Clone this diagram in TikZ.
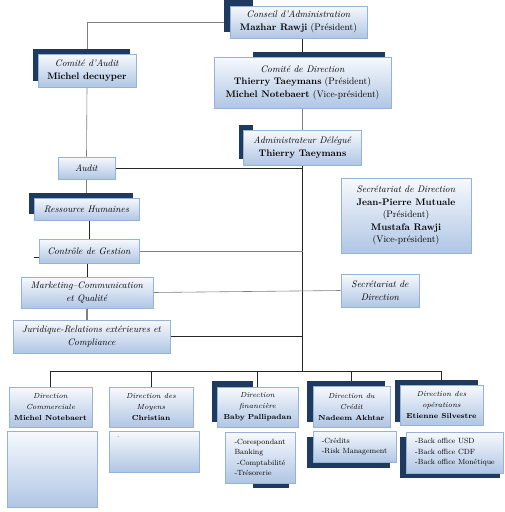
\documentclass[tikz,border=0pt]{standalone}
\usepackage{fontspec}
\definecolor{boxline}{HTML}{95B3D7}
\definecolor{boxtop}{HTML}{F7F9FD}
\definecolor{boxbot}{HTML}{B0C6E4}
\definecolor{navy}{HTML}{1F3A5F}
\pgfdeclarelayer{bg}
\pgfsetlayers{bg,main}
\begin{document}
\begin{tikzpicture}[x=1pt,y=-1pt,
  box/.style={draw=boxline,top color=boxtop,bottom color=boxbot,line width=.8pt,inner sep=1pt,align=center,font=\fontsize{9.5}{12.5}\selectfont},
  dirbox/.style={box,font=\fontsize{7.3}{11}\selectfont},
  listbox/.style={box,align=left,font=\fontsize{7.5}{10.5}\selectfont},
  link/.style={draw=black!85,line width=.6pt},
  glink/.style={draw=black!50,line width=.6pt}]
\useasboundingbox (0,0) rectangle (505,512);
% shadows
\fill[navy] (224,0) rectangle (253,32);
\fill[navy] (33,49) rectangle (130,81);
\fill[navy] (253,52) rectangle (385,70);
\fill[navy] (239,125) rectangle (253,159);
\fill[navy] (29,193) rectangle (133,214);
\fill[navy] (212,381) rectangle (253,422);
\fill[navy] (253,437) rectangle (289,488);
\fill[navy] (307,381) rectangle (385,422);
\fill[navy] (307,437) rectangle (390,468);
\fill[navy] (395,380) rectangle (478,422);
\fill[navy] (400,437) rectangle (500,478);
% top part
\node[box,minimum width=137,minimum height=32] (conseil) at (298.5,22) {\textit{Conseil d'Administration}\\\textbf{Mazhar Rawji} (Président)};
\node[box,minimum width=98,minimum height=33] (caudit) at (87,70.5) {\textit{Comité d'Audit}\\\textbf{Michel decuyper}};
\node[box,minimum width=177,minimum height=51] (cdir) at (302.5,82.5) {\textit{Comité de Direction}\\\textbf{Thierry Taeymans} (Président)\\\textbf{Michel Notebaert} (Vice-président)};
\node[box,minimum width=118,minimum height=35] (admin) at (302.5,147.5) {\textit{Administrateur Délégué}\\\textbf{Thierry Taeymans}};
\node[box,minimum width=57,minimum height=22] (audit) at (86.5,168) {\textit{Audit}};
\node[box,minimum width=105,minimum height=22] (rh) at (86.5,209) {\textit{Ressource Humaines}};
\node[box,minimum width=100,minimum height=24] (cdg) at (89,251) {\textit{Contrôle de Gestion}};
\node[box,minimum width=132,minimum height=31] (mkt) at (87,292.5) {\textit{Marketing--Communication}\\\textit{et Qualité}};
\node[box,minimum width=157,minimum height=33] (jur) at (91.5,336.5) {\textit{Juridique-Relations extérieures et}\\\textit{Compliance}};
\node[box,minimum width=130,minimum height=75] (secdir) at (406,215.5) {\textit{Secrétariat de Direction}\\\textbf{Jean-Pierre Mutuale}\\(Président)\\\textbf{Mustafa Rawji}\\(Vice-président)};
\node[box,minimum width=78,minimum height=33] (sec) at (380,290.5) {\textit{Secrétariat de}\\\textit{Direction}};
% directions
\node[dirbox,minimum width=83,minimum height=40] (dcom) at (50.5,407) {\textit{Direction}\\\textit{Commerciale}\\\textbf{Michel Notebaert}};
\node[dirbox,minimum width=84,minimum height=40] (dmoy) at (151,407) {\textit{Direction des}\\\textit{Moyens}\\\textbf{Christian}};
\node[dirbox,minimum width=81,minimum height=40] (dfin) at (257.5,407) {\textit{Direction}\\\textit{financière}\\\textbf{Baby Pallipadan}};
\node[dirbox,minimum width=77,minimum height=41] (dcred) at (351.5,406.5) {\textit{Direction du}\\\textit{Crédit}\\\textbf{Nadeem Akhtar}};
\node[dirbox,minimum width=83,minimum height=40] (dops) at (441.5,405) {\textit{Direction des}\\\textit{opérations}\\\textbf{Etienne Silvestre}};
\node[listbox,minimum width=90,minimum height=76] (dcomlist) at (52,469) {};
\node[listbox,minimum width=90,minimum height=41,label={[anchor=north west,xshift=5pt,yshift=-3pt,font=\fontsize{7.5}{9}\selectfont]north west:.}] (dmoylist) at (154,451.5) {};
\node[listbox,minimum width=70,minimum height=51] (dfinlist) at (260,457.5) {-Corespondant\\Banking\\\ -Comptabilité\\-Trésorerie};
\node[listbox,minimum width=83,minimum height=31] (dcredlist) at (354.5,446.5) {-Crédits\\-Risk Management};
\node[listbox,minimum width=97,minimum height=41] (dopslist) at (455,452.5) {-Back office USD\\-Back office CDF\\-Back office Monétique};
% connectors
\begin{pgfonlayer}{bg}
\draw[glink] (conseil.west) -| (caudit.north);
\draw[link] (cdir.north |- conseil.south) -- (cdir.north);
\draw[glink] (cdir.south) -- (admin.north);
\draw[link] (admin.south) -- (admin.south |- 0,371) coordinate (bus);
\draw[glink] (caudit.south) -- (audit.north);
\draw[link] (audit.east) -- (audit.east -| bus);
\draw[glink] (audit.south) -- (rh.north);
\draw[link] (cdg.north |- rh.south) -- (cdg.north);
\draw[glink] (cdg.east) -- (cdg.east -| bus);
\draw[link] ([yshift=-6pt]cdg.west) -- ++(-5,0);
\draw[link] (mkt.north |- cdg.south) -- (mkt.north);
\draw[glink] (mkt.east) -- (sec.west);
\draw[glink,line width=1.2pt] (jur.north -| mkt.south) -- (mkt.south);
\draw[link] (jur.east) -- (jur.east -| bus);
\draw[link] (dcom.north |- bus) -- (dops.north |- bus);
\foreach \d in {dcom,dmoy,dfin,dcred,dops}
  \draw[link] (\d.north) -- (\d.north |- bus);
\end{pgfonlayer}
\end{tikzpicture}
\end{document}
